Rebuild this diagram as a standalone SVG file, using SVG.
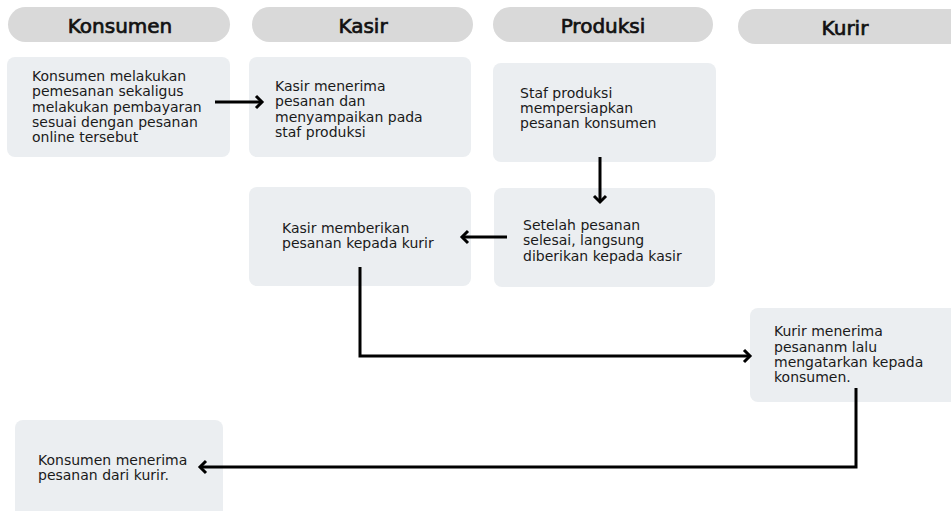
<svg xmlns="http://www.w3.org/2000/svg" width="951" height="511" viewBox="0 0 951 511">
<defs>
<style>
.pill{fill:#d9d9d9}
.hdr{font-family:"DejaVu Sans",sans-serif;font-size:20px;fill:#111;stroke:#111;stroke-width:0.7;text-anchor:middle}
.box{fill:#ebeef1}
.txt{font-family:"DejaVu Sans",sans-serif;font-size:14px;fill:#1a1a1a}
.con{fill:none;stroke:#000;stroke-width:3}
</style>
<marker id="arr" markerUnits="userSpaceOnUse" markerWidth="14" markerHeight="16" refX="9" refY="8" orient="auto" viewBox="0 0 14 16">
<path d="M3,2 L9,8 L3,14" fill="none" stroke="#000" stroke-width="3"/>
</marker>
</defs>
<rect width="951" height="511" fill="#fff"/>
<g id="header-konsumen"><rect class="pill" x="8" y="7" width="222" height="35" rx="17.5"/><text class="hdr" x="120" y="33">Konsumen</text></g>
<g id="header-kasir"><rect class="pill" x="252" y="7" width="221" height="35" rx="17.5"/><text class="hdr" x="363" y="33">Kasir</text></g>
<g id="header-produksi"><rect class="pill" x="493" y="7" width="220" height="35" rx="17.5"/><text class="hdr" x="603" y="33">Produksi</text></g>
<g id="header-kurir"><rect class="pill" x="738" y="9" width="230" height="35" rx="17.5"/><text class="hdr" x="845" y="35">Kurir</text></g>

<g id="n1"><rect class="box" x="7" y="57" width="223" height="100" rx="8"/>
<text class="txt"><tspan x="32" y="81">Konsumen melakukan</tspan><tspan x="32" y="96">pemesanan sekaligus</tspan><tspan x="32" y="112">melakukan pembayaran</tspan><tspan x="32" y="127">sesuai dengan pesanan</tspan><tspan x="32" y="142">online tersebut</tspan></text></g>
<g id="n2"><rect class="box" x="249" y="57" width="222" height="100" rx="8"/>
<text class="txt"><tspan x="275" y="91">Kasir menerima</tspan><tspan x="275" y="106">pesanan dan</tspan><tspan x="275" y="122">menyampaikan pada</tspan><tspan x="275" y="137">staf produksi</tspan></text></g>
<g id="n3"><rect class="box" x="493" y="63" width="223" height="99" rx="8"/>
<text class="txt"><tspan x="520" y="98">Staf produksi</tspan><tspan x="520" y="113">mempersiapkan</tspan><tspan x="520" y="128">pesanan konsumen</tspan></text></g>
<g id="n4"><rect class="box" x="249" y="187" width="222" height="99" rx="8"/>
<text class="txt"><tspan x="282" y="233">Kasir memberikan</tspan><tspan x="282" y="248">pesanan kepada kurir</tspan></text></g>
<g id="n5"><rect class="box" x="494" y="188" width="221" height="99" rx="8"/>
<text class="txt"><tspan x="523" y="230">Setelah pesanan</tspan><tspan x="523" y="245">selesai, langsung</tspan><tspan x="523" y="261">diberikan kepada kasir</tspan></text></g>
<g id="n6"><rect class="box" x="750" y="308" width="215" height="94" rx="8"/>
<text class="txt"><tspan x="774" y="336">Kurir menerima</tspan><tspan x="774" y="352">pesananm lalu</tspan><tspan x="774" y="367">mengatarkan kepada</tspan><tspan x="774" y="382">konsumen.</tspan></text></g>
<g id="n7"><rect class="box" x="15" y="420" width="208" height="100" rx="8"/>
<text class="txt"><tspan x="38" y="465">Konsumen menerima</tspan><tspan x="38" y="480">pesanan dari kurir.</tspan></text></g>

<g id="connectors">
<path class="con" d="M215,102 L262,102" marker-end="url(#arr)"/>
<path class="con" d="M600,157 L600,202" marker-end="url(#arr)"/>
<path class="con" d="M507,237 L462,237" marker-end="url(#arr)"/>
<path class="con" d="M360,267 L360,356 L750,356" marker-end="url(#arr)"/>
<path class="con" d="M856,388 L856,467 L200,467" marker-end="url(#arr)"/>
</g>
</svg>
